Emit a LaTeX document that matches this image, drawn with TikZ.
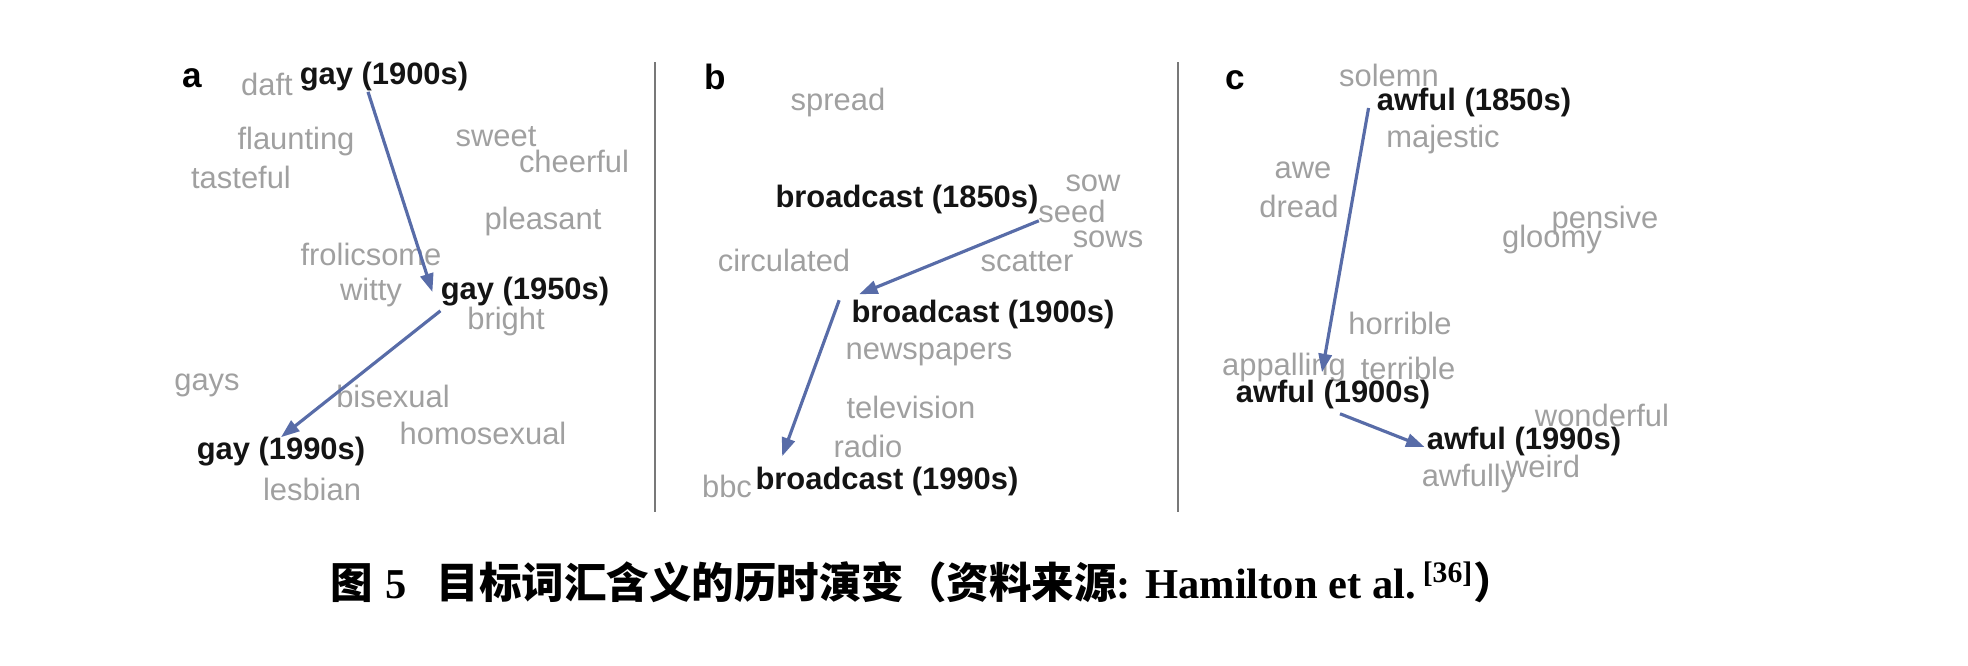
\documentclass[tikz,border=0pt]{standalone}
\usepackage{fontspec}
\setmainfont{Liberation Serif}
\newfontfamily\wordfont{Liberation Sans}
\newfontfamily\cjk{Noto Sans CJK SC}
\usetikzlibrary{arrows.meta}
\definecolor{wordgray}{RGB}{160,160,160}
\definecolor{driftblue}{RGB}{88,108,168}
\definecolor{rulegray}{RGB}{120,120,120}

\begin{document}
\begin{tikzpicture}[x=0.02cm, y=-0.02cm,
    word/.style={inner sep=0pt, text=wordgray, font=\wordfont\fontsize{17.6}{18}\selectfont},
    key/.style={inner sep=0pt, text=black!92, font=\wordfont\bfseries\fontsize{17.6}{18}\selectfont},
    panel/.style={inner sep=0pt, font=\wordfont\bfseries\fontsize{20}{22}\selectfont},
    drift/.style={draw=driftblue, line width=1.8pt, -{Triangle[length=10.5pt, width=7.5pt]}},
    divider/.style={draw=rulegray, line width=1.1pt},
    caption/.style={inner sep=0pt, font=\fontsize{24.2}{27}\selectfont\bfseries},
]
    \useasboundingbox (0,0) rectangle (1968,666);

    % Panel a: gay
    \node[panel] (pa) at (192,78) {a};
    \node[word] (daft) at (267,84) {daft};
    \node[key] (g1900) at (384,77) {gay (1900s)};
    \node[word] (flaunting) at (296,142) {flaunting};
    \node[word] (tasteful) at (241,177) {tasteful};
    \node[word] (sweet) at (496,137) {sweet};
    \node[word] (cheerful) at (574,161) {cheerful};
    \node[word] (pleasant) at (543,222) {pleasant};
    \node[word] (frolicsome) at (371,254) {frolicsome};
    \node[word] (witty) at (371,293) {witty};
    \node[key] (g1950) at (525,292) {gay (1950s)};
    \node[word] (bright) at (506,322) {bright};
    \node[word] (gays) at (207,385) {gays};
    \node[word] (bisexual) at (393,396) {bisexual};
    \node[word] (homosexual) at (483,433) {homosexual};
    \node[key] (g1990) at (281,452) {gay (1990s)};
    \node[word] (lesbian) at (312,489) {lesbian};

    \draw[drift] ([xshift=-0.32cm]g1900.south) -- ([xshift=-0.16cm]g1950.west);
    \draw[drift] ([yshift=-0.08cm]g1950.south west) -- (g1990.north);

    \draw[divider] (655,62) -- (655,512);

    % Panel b: broadcast
    \node[panel] (pb) at (715,77) {b};
    \node[word] (spread) at (838,103) {spread};
    \node[key] (b1850) at (907,200) {broadcast (1850s)};
    \node[word] (sow) at (1093,183) {sow};
    \node[word] (seed) at (1072,211) {seed};
    \node[word] (sows) at (1108,239) {sows};
    \node[word] (scatter) at (1027,262) {scatter};
    \node[word] (circulated) at (784,260) {circulated};
    \node[key] (b1900) at (983,315) {broadcast (1900s)};
    \node[word] (newspapers) at (929,354) {newspapers};
    \node[word] (television) at (911,407) {television};
    \node[word] (radio) at (868,446) {radio};
    \node[word] (bbc) at (727,486) {bbc};
    \node[key] (b1990) at (887,481) {broadcast (1990s)};

    \draw[drift] ([yshift=-0.12cm]b1850.south east) -- ([xshift=0.16cm, yshift=0.12cm]b1900.north west);
    \draw[drift] ([xshift=-0.24cm]b1900.north west) -- ([xshift=0.54cm, yshift=0.2cm]b1990.north west);

    \draw[divider] (1178,62) -- (1178,512);

    % Panel c: awful
    \node[panel] (pc) at (1235,80) {c};
    \node[word] (solemn) at (1389,75) {solemn};
    \node[key] (a1850) at (1474,103) {awful (1850s)};
    \node[word] (majestic) at (1443,140) {majestic};
    \node[word] (awe) at (1303,170) {awe};
    \node[word] (dread) at (1299,206) {dread};
    \node[word] (pensive) at (1605,221) {pensive};
    \node[word] (gloomy) at (1552,240) {gloomy};
    \node[word] (horrible) at (1400,323) {horrible};
    \node[word] (appalling) at (1284,368) {appalling};
    \node[word] (terrible) at (1408,368) {terrible};
    \node[key] (a1900) at (1333,395) {awful (1900s)};
    \node[word] (wonderful) at (1602,415) {wonderful};
    \node[key] (a1990) at (1524,442) {awful (1990s)};
    \node[word] (weird) at (1543,466) {weird};
    \node[word] (awfully) at (1469,478) {awfully};

    \draw[drift] ([xshift=-0.16cm, yshift=-0.1cm]a1850.west) -- ([xshift=-0.22cm, yshift=0.16cm]a1900.north);
    \draw[drift] ([xshift=0.14cm, yshift=-0.08cm]a1900.south) -- ([xshift=-0.04cm, yshift=-0.1cm]a1990.west);

    % Caption
    \node[caption, anchor=west] (cap) at (330,582) {{\cjk 图}\hspace{0.3em}5\hspace{0.7em}{\cjk 目标词汇含义的历时演变（资料来源}: Hamilton et al.\,\textsuperscript{[36]}{\cjk ）}};
\end{tikzpicture}
\end{document}
